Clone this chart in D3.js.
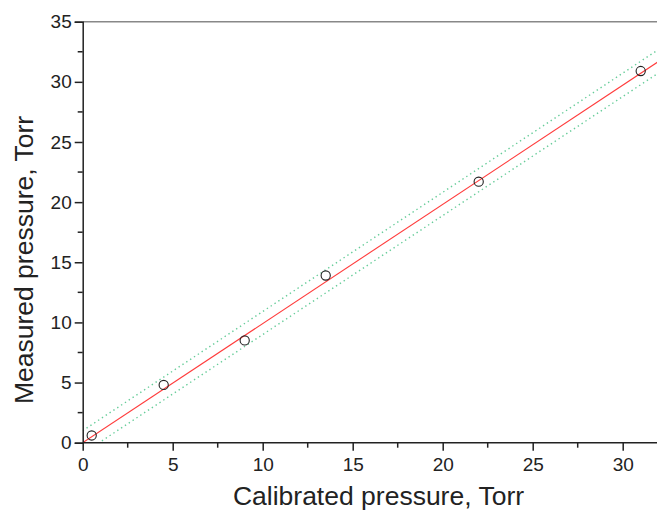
<!DOCTYPE html>
<html>
<head>
<meta charset="utf-8">
<script src="https://cdn.jsdelivr.net/npm/d3@7"></script>
<style>
  body { margin: 0; background: #fff; }
  #root { width: 657px; height: 510px; overflow: hidden; }
  text { font-family: "Liberation Sans", Arial, sans-serif; fill: #222; }
</style>
</head>
<body>
<div id="root"></div>
<script>
// measured points
var calibrated = [0.5, 4.5, 9, 13.5, 22, 31];
var measured = [0.6, 4.8, 8.5, 13.9, 21.7, 30.9];

// linear fit and its band, end points
var fitX = [0, 32];
var fitY = [0, 31.7];
var upperY = [1.0, 32.7];
var lowerY = [-0.9, 30.75];

var xTicks = [0, 5, 10, 15, 20, 25, 30];
var yTicks = [0, 5, 10, 15, 20, 25, 30, 35];

var width = 657, height = 510;
var margin = {left: 82.7, top: 21.7, bottom: 67.3};

var svg = d3.select("#root").append("svg")
    .attr("width", width)
    .attr("height", height);

var x = d3.scaleLinear().domain([0, 32]).range([margin.left, margin.left + 32 * 18]);
var y = d3.scaleLinear().domain([0, 35]).range([height - margin.bottom, margin.top]);

svg.append("clipPath").attr("id", "plot")
  .append("rect")
    .attr("x", x(0)).attr("y", y(35))
    .attr("width", x(32) - x(0)).attr("height", y(0) - y(35));

// top frame line
svg.append("line")
    .attr("x1", x(0)).attr("x2", width)
    .attr("y1", y(35)).attr("y2", y(35))
    .attr("stroke", "#888").attr("stroke-width", 1.5);

var chart = svg.append("g").attr("clip-path", "url(#plot)");

var line = d3.line()
    .x(function(d) { return x(d[0]); })
    .y(function(d) { return y(d[1]); });

[upperY, lowerY].forEach(function(b) {
  chart.append("path")
      .datum(d3.zip(fitX, b))
      .attr("d", line)
      .attr("fill", "none")
      .attr("stroke", "#66cc99")
      .attr("stroke-width", 1.4)
      .attr("stroke-dasharray", "1.4,3.2");
});

chart.append("path")
    .datum(d3.zip(fitX, fitY))
    .attr("d", line)
    .attr("fill", "none")
    .attr("stroke", "#ff3b3b")
    .attr("stroke-width", 1.1);

svg.append("g").selectAll("circle")
    .data(d3.zip(calibrated, measured))
    .enter().append("circle")
    .attr("cx", function(d) { return x(d[0]); })
    .attr("cy", function(d) { return y(d[1]); })
    .attr("r", 4.6)
    .attr("fill", "none")
    .attr("stroke", "#222")
    .attr("stroke-width", 1.1);

// axes
var xAxis = svg.append("g")
    .attr("transform", "translate(0," + y(0) + ")")
    .call(d3.axisBottom(x).tickValues(xTicks).tickSize(8).tickPadding(7).tickFormat(d3.format("d")));
xAxis.append("g").selectAll("line")
    .data(d3.range(2.5, 32, 5))
    .enter().append("line")
    .attr("x1", function(d) { return x(d); }).attr("x2", function(d) { return x(d); })
    .attr("y1", 0).attr("y2", 5)
    .attr("stroke", "#222").attr("stroke-width", 1.5);

var yAxis = svg.append("g")
    .attr("transform", "translate(" + x(0) + ",0)")
    .call(d3.axisLeft(y).tickValues(yTicks).tickSize(8).tickPadding(3).tickFormat(d3.format("d")));
yAxis.append("g").selectAll("line")
    .data(d3.range(2.5, 35, 5))
    .enter().append("line")
    .attr("y1", function(d) { return y(d); }).attr("y2", function(d) { return y(d); })
    .attr("x1", 0).attr("x2", -5)
    .attr("stroke", "#222").attr("stroke-width", 1.5);

svg.selectAll(".domain").attr("stroke", "#222").attr("stroke-width", 1.5);
xAxis.select(".domain").attr("d", "M" + x(0) + ",0H" + width);
svg.selectAll(".tick line").attr("stroke", "#222").attr("stroke-width", 1.5);
svg.selectAll(".tick text").attr("font-size", 19).attr("fill", "#222")
    .style("font-family", "'Liberation Sans', Arial, sans-serif");

svg.append("text")
    .attr("x", 378.5)
    .attr("y", 505)
    .attr("text-anchor", "middle")
    .attr("font-size", 26.5)
    .text("Calibrated pressure, Torr");

svg.append("text")
    .attr("transform", "translate(33," + 260 + ") rotate(-90)")
    .attr("text-anchor", "middle")
    .attr("font-size", 26.5)
    .text("Measured pressure, Torr");
</script>
</body>
</html>
